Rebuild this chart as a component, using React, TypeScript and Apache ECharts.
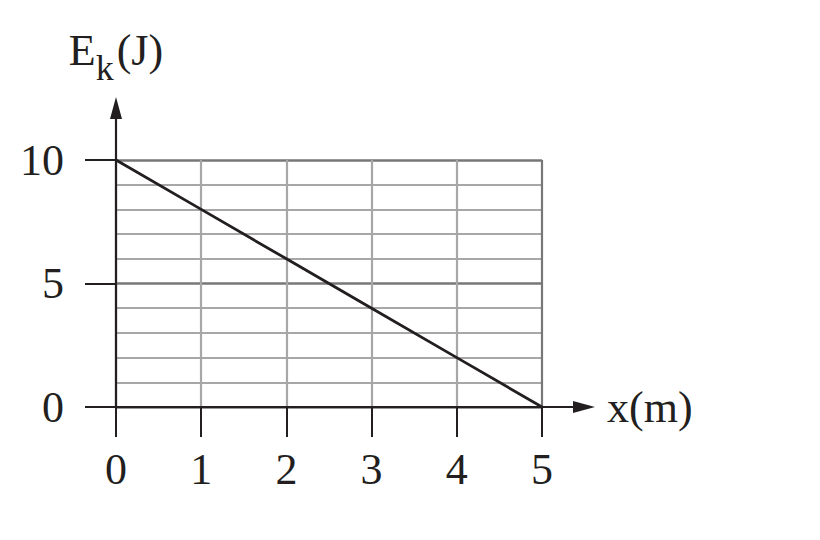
import { useEffect, useRef } from 'react';
import * as echarts from 'echarts';

// E_k falls linearly from 10 J at x = 0 to 0 J at x = 5 m
const xValues = [0, 1, 2, 3, 4, 5];
const ekValues = [10, 8, 6, 4, 2, 0];

const ink = '#231f20';
const majorGrid = '#777777';
const minorGrid = '#a7a7a7';
const font = '"Liberation Serif", "DejaVu Serif", serif';

export default function App() {
  const chartRef = useRef<HTMLDivElement>(null);

  useEffect(() => {
    if (!chartRef.current) return;
    const chart = echarts.init(chartRef.current, null, { renderer: 'svg' });

    const option: echarts.EChartsOption = {
      animation: false,
      backgroundColor: '#ffffff',
      grid: [
        // plotting area, 0..5 by 0..10
        { left: 116, top: 160, right: 278, bottom: 133 },
        // same origin, longer axes that carry the arrows and names
        { left: 116, top: 108, right: 236, bottom: 133 },
      ],
      xAxis: [
        {
          type: 'value',
          gridIndex: 0,
          min: 0,
          max: 5,
          interval: 1,
          axisLine: { show: false },
          axisTick: {
            show: true,
            length: 30,
            lineStyle: { color: ink, width: 2 },
          },
          axisLabel: {
            color: ink,
            fontFamily: font,
            fontSize: 44,
            margin: 62,
            verticalAlign: 'middle',
          },
          splitLine: {
            show: true,
            lineStyle: {
              color: [minorGrid, minorGrid, minorGrid, minorGrid, minorGrid, majorGrid],
              width: 2.2,
            },
          },
        },
        {
          type: 'value',
          gridIndex: 1,
          min: 0,
          max: 1,
          name: 'x(m)',
          nameLocation: 'end',
          nameGap: 23,
          nameTextStyle: { color: ink, fontFamily: font, fontSize: 44 },
          axisLine: {
            show: true,
            symbol: ['none', 'triangle'],
            symbolSize: [12, 22],
            lineStyle: { color: ink, width: 2.2 },
          },
          axisTick: { show: false },
          axisLabel: { show: false },
          splitLine: { show: false },
        },
      ],
      yAxis: [
        {
          type: 'value',
          gridIndex: 0,
          min: 0,
          max: 10,
          interval: 5,
          axisLine: { show: false },
          axisTick: {
            show: true,
            length: 31,
            lineStyle: { color: ink, width: 2 },
          },
          axisLabel: {
            color: ink,
            fontFamily: font,
            fontSize: 44,
            margin: 52,
            padding: [0, 0, 6, 0],
          },
          splitLine: {
            show: true,
            lineStyle: { color: majorGrid, width: 2.6 },
          },
          minorTick: { show: false, splitNumber: 5 },
          minorSplitLine: {
            show: true,
            lineStyle: { color: minorGrid, width: 2 },
          },
        },
        {
          type: 'value',
          gridIndex: 1,
          min: 0,
          max: 1,
          name: '{e|E}{k|k}{p|(J)}',
          nameLocation: 'end',
          nameGap: 22,
          nameTextStyle: {
            color: ink,
            fontFamily: font,
            align: 'center',
            rich: {
              e: {
                fontFamily: font,
                fontSize: 44,
                lineHeight: 44,
                color: ink,
                verticalAlign: 'bottom',
                padding: [0, 0, 14, 0],
              },
              k: {
                fontFamily: font,
                fontSize: 36,
                lineHeight: 36,
                color: ink,
                verticalAlign: 'bottom',
              },
              p: {
                fontFamily: font,
                fontSize: 44,
                lineHeight: 44,
                color: ink,
                verticalAlign: 'bottom',
                padding: [0, 0, 14, 3],
              },
            },
          },
          axisLine: {
            show: true,
            symbol: ['none', 'triangle'],
            symbolSize: [12, 22],
            lineStyle: { color: ink, width: 2.2 },
          },
          axisTick: { show: false },
          axisLabel: { show: false },
          splitLine: { show: false },
        },
      ],
      series: [
        {
          type: 'line',
          xAxisIndex: 0,
          yAxisIndex: 0,
          data: xValues.map((x, i) => [x, ekValues[i]]),
          symbol: 'none',
          lineStyle: { color: ink, width: 2.8 },
          z: 5,
        },
      ],
    };

    chart.setOption(option);

    return () => {
      chart.dispose();
    };
  }, []);

  return (
    <div
      ref={chartRef}
      style={{ position: 'absolute', left: 0, top: 0, width: 820, height: 540 }}
    />
  );
}
